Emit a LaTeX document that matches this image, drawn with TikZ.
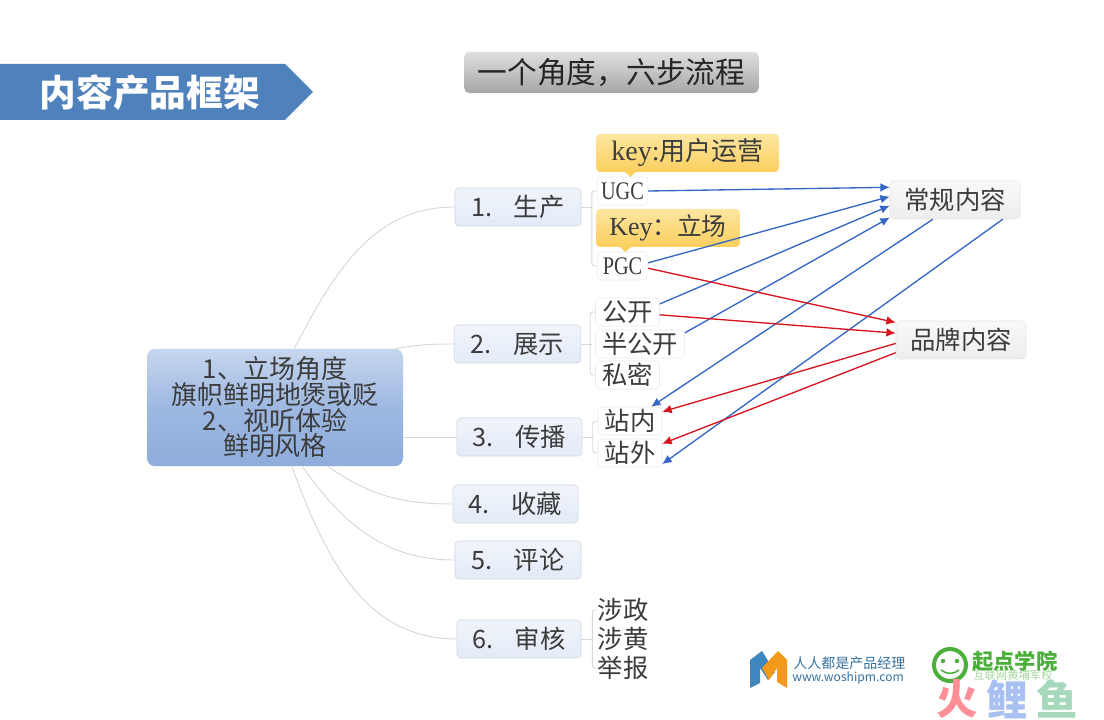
\documentclass[tikz,border=0pt]{standalone}
\usepackage{fontspec}
\setmainfont{Liberation Serif}
\newfontfamily\cjk{Noto Sans CJK SC}
\newfontfamily\lat[FakeStretch=0.8]{Liberation Serif}
\usetikzlibrary{arrows.meta}
\definecolor{bannerblue}{HTML}{4F81BD}
\definecolor{rootup}{HTML}{C6D6EE}
\definecolor{rootmid}{HTML}{9DB8E1}
\definecolor{rootdown}{HTML}{8EACDB}
\definecolor{mainup}{HTML}{F0F4FA}
\definecolor{maindown}{HTML}{E3EBF8}
\definecolor{edgegray}{HTML}{D4D8DC}
\definecolor{keyup}{HTML}{FCE6A0}
\definecolor{keydown}{HTML}{FBCF5E}
\definecolor{arrblue}{HTML}{3566C4}
\definecolor{arrred}{HTML}{D8141E}
\definecolor{inktext}{HTML}{3C3C3C}
\definecolor{logogreen}{HTML}{4CAF3C}
\definecolor{logoblue}{HTML}{3F86BE}
\definecolor{logoorange}{HTML}{F39A1C}
\definecolor{markred}{HTML}{FF8F96}
\definecolor{markblue}{HTML}{A9C1F2}
\definecolor{markgreen}{HTML}{A6D8BC}

\begin{document}
\begin{tikzpicture}[x=0.75pt,y=-0.75pt,
    root/.style={draw=none, top color=rootup, bottom color=rootdown, middle color=rootmid, rounded corners=6pt,
                 align=center, text=inktext, font=\cjk\fontsize{19.5}{19.2}\selectfont,
                 minimum width=192pt, minimum height=88pt, inner sep=0pt},
    topic/.style={draw=maindown!80!gray, top color=mainup, bottom color=maindown, rounded corners=3pt,
                  text=inktext, font=\cjk\fontsize{19}{20}\selectfont, minimum height=28.5pt, inner sep=0pt},
    leaf/.style={draw=edgegray!50, fill=white, rounded corners=3pt, text=inktext,
                 font=\cjk\fontsize{19}{20}\selectfont, minimum height=21pt, inner sep=0pt},
    plain/.style={text=inktext, font=\cjk\fontsize{19}{20}\selectfont, inner sep=0pt},
    keynote/.style={draw=none, top color=keyup, bottom color=keydown,
                    rounded corners=3pt, text=inktext, font=\cjk\fontsize{19.5}{20}\selectfont,
                    minimum height=28.5pt, inner sep=0pt},
    wmark/.style={font=\cjk\bfseries\fontsize{31}{33}\selectfont, inner sep=0pt},
    branch/.style={edgegray, line width=0.7pt},
    bluearr/.style={-{Latex[length=7pt,width=6.5pt]}, arrblue, line width=1pt},
    redarr/.style={-{Latex[length=7pt,width=6.5pt]}, arrred, line width=1pt}]
  \useasboundingbox (0,0) rectangle (1104,720);
  \fill[white] (0,0) rectangle (1104,720);

  % header
  \fill[bannerblue] (0,64) -- (285,64) -- (313,92) -- (285,120) -- (0,120) -- cycle;
  \node[white, font=\cjk\bfseries\fontsize{27.5}{30}\selectfont, inner sep=0pt] (title) at (150,93) {内容产品框架};
  \node[top color=gray!25, bottom color=gray!70, rounded corners=4pt, text=black!85, minimum width=221pt, minimum height=31pt,
        font=\cjk\fontsize{22.3}{26}\selectfont, inner sep=0pt] (head) at (611.5,72.5) {一个角度，六步流程};

  % main branches
  \node[root] (root) at (275,407.5) {1、立场角度\\旗帜鲜明地煲或贬\\2、视听体验\\鲜明风格};
  \node[topic, minimum width=94.5pt] (prod) at (518,207) {1.\hspace{0.85em}生产};
  \node[topic, minimum width=95pt] (show) at (517.5,344) {2.\hspace{0.85em}展示};
  \node[topic, minimum width=94pt] (spread) at (519.5,437) {3.\hspace{0.85em}传播};
  \node[topic, minimum width=94pt] (fav) at (515.5,504) {4.\hspace{0.85em}收藏};
  \node[topic, minimum width=94.5pt] (comment) at (518,560) {5.\hspace{0.85em}评论};
  \node[topic, minimum width=93pt] (audit) at (519,639) {6.\hspace{0.85em}审核};

  % leaves
  \node[leaf, minimum width=38pt] (ugc) at (622.5,191) {\lat UGC};
  \node[leaf, minimum width=38pt] (pgc) at (622.5,266) {\lat PGC};
  \node[leaf, minimum width=48pt] (open) at (627.5,312) {公开};
  \node[leaf, minimum width=67pt] (semi) at (640,344) {半公开};
  \node[leaf, minimum width=48pt] (private) at (627.5,375) {私密};
  \node[leaf, minimum width=48pt] (inner) at (630,421) {站内};
  \node[leaf, minimum width=48pt] (outer) at (630,453) {站外};
  \node[plain] (gov) at (623,610) {涉政};
  \node[plain] (porn) at (623,639) {涉黄};
  \node[plain] (report) at (623,668) {举报};

  \draw[branch] (root.72) to[out=62,in=180] (prod.west);
  \draw[branch] (root.26) to[out=10,in=180] (show.west);
  \draw[branch] (root.east |- spread.west) -- (spread.west);
  \draw[branch] (root.-48) to[out=-35,in=180] (fav.west);
  \draw[branch] (root.-65) to[out=-55,in=180] (comment.west);
  \draw[branch] (root.-74) to[out=-70,in=180] (audit.west);

  \foreach \a/\b/\c in {prod/ugc/pgc, show/open/private, spread/inner/outer, audit/gov/report} {
    \draw[branch] (\a.east) -- ++(11,0);
    \draw[branch, rounded corners=2pt] (\b.west) -- ++(-5,0) |- (\c.west);
  }

  % notes
  \node[keynote, minimum width=137pt] (keyuser) at (687.5,153) {{\fontsize{21}{21}\selectfont\textrm{key:}}用户运营};
  \node[keynote, minimum width=108pt, font=\cjk\fontsize{18.5}{20}\selectfont] (keystand) at (668,228) {{\fontsize{19.5}{21}\selectfont\textrm{Key}}：立场};
  \fill[keydown] (625,172) -- (636,172) -- (630.5,177) -- cycle;
  \fill[keydown] (620,247) -- (631,247) -- (625.5,252) -- cycle;

  % targets
  \node[topic, draw=gray!20, top color=gray!5, bottom color=gray!14, minimum width=97.5pt] (regular) at (955,200) {常规内容};
  \node[topic, draw=gray!20, top color=gray!5, bottom color=gray!14, minimum width=97.5pt] (brand) at (961,340) {品牌内容};

  \draw[bluearr] (ugc.east) -- (regular.169);
  \draw[bluearr] (pgc.7) -- (regular.177);
  \draw[bluearr] (open.14) -- (regular.185);
  \draw[bluearr] (semi.14) -- (regular.195);
  \draw[bluearr] (regular.221) -- (inner.34);
  \draw[bluearr] (regular.-22) -- (outer.-19);
  \draw[redarr] (pgc.-5) -- (brand.165);
  \draw[redarr] (open.-5) -- (brand.174);
  \draw[redarr] (brand.183) -- (inner.16);
  \draw[redarr] (brand.191) -- (outer.16);

  % logos
  \fill[logoblue] (750,660) -- (762,651) -- (775,672) -- (768,680) -- (760,668) -- (760,683) -- (750,688) -- cycle;
  \fill[logoorange] (762,668) -- (778,651) -- (787,660) -- (787,688) -- (777,682) -- (777,668) -- (769,680) -- cycle;
  \node[anchor=west, text=logoblue!85!black, font=\cjk\fontsize{10.5}{11}\selectfont, inner sep=0pt] (woshi) at (793,663) {人人都是产品经理};
  \node[anchor=west, text=logoblue!85!black, font=\cjk\fontsize{9.1}{11}\selectfont, inner sep=0pt] (woshiurl) at (792,678) {www.woshipm.com};
  \node[circle, draw=logogreen, line width=3pt, minimum size=24pt, inner sep=0pt] (smile) at (950,665) {};
  \fill[logogreen] (943,661) circle (2.2) (957,661) circle (2.2);
  \draw[logogreen, line width=1.2pt] (941,670) to[bend right=40] (959,670);
  \node[anchor=west, text=logogreen, font=\cjk\bfseries\fontsize{16}{17}\selectfont, inner sep=0pt] (qidian) at (972,661) {起点学院};
  \node[anchor=west, text=logogreen!50, font=\cjk\fontsize{8.5}{9}\selectfont, inner sep=0pt] (qidiansub) at (973,675) {互联网黄埔军校};
  \node[wmark, text=markred] (wmred) at (957,699) {火};
  \node[wmark, text=markblue] (wmblue) at (1007,699) {鲤};
  \node[wmark, text=markgreen] (wmgreen) at (1057,699) {鱼};
\end{tikzpicture}
\end{document}
